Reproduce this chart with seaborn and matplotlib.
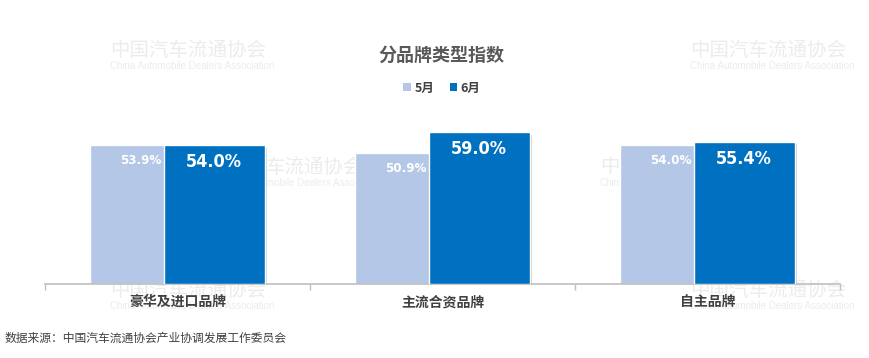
import matplotlib
matplotlib.use("Agg")
import matplotlib.pyplot as plt
import matplotlib.patheffects as pe
from matplotlib.patches import Patch
import seaborn as sns
import pandas as pd

categories = ["豪华及进口品牌", "主流合资品牌", "自主品牌"]
may_vals = [53.9, 50.9, 54.0]
jun_vals = [54.0, 59.0, 55.4]
series_names = ["5月", "6月"]
colors = ["#B4C7E7", "#0070C0"]

sns.set_theme(style="white")
CJK = ["Noto Sans CJK SC", "DejaVu Sans"]
NUM = ["DejaVu Sans"]
plt.rcParams["font.family"] = CJK

W, H = 869, 358
fig = plt.figure(figsize=(W / 100, H / 100), dpi=100)
ax = fig.add_axes([45 / W, (H - 284) / H, (840 - 45) / W, (284 - 104) / H])
ax.set_facecolor("none")

# faint watermarks (behind bars)
wm_color = "#ECECEC"
def watermark(x, y, cn="中国汽车流通协会", en="China Automobile Dealers Association"):
    fig.text(x / W, 1 - y / H, cn, fontsize=14, color=wm_color,
             family=CJK, ha="left", va="center", zorder=-5)
    fig.text(x / W, 1 - (y + 16) / H, en, fontsize=7,
             color=wm_color, family=["Liberation Sans", "DejaVu Sans"], ha="left", va="center", zorder=-5)

watermark(110, 50)
watermark(690, 50)
watermark(266, 167, "车流通协会", "mobile Dealers Associ")
watermark(600, 167, "中", "Chin")
watermark(110, 290)
watermark(690, 290)

df_may = pd.DataFrame({"cat": categories, "val": may_vals})
df_jun = pd.DataFrame({"cat": categories, "val": jun_vals})
bar_w = 0.381
offset = 0.138

shadow = [pe.SimplePatchShadow(offset=(2, -2), shadow_rgbFace="#808080", alpha=0.35), pe.Normal()]

sns.barplot(data=df_may, x="cat", y="val", color=colors[0], saturation=1, width=bar_w, ax=ax, zorder=2)
n0 = len(ax.patches)
for p in ax.patches[:n0]:
    p.set_x(p.get_x() - offset)
    p.set_path_effects(shadow)
sns.barplot(data=df_jun, x="cat", y="val", color=colors[1], saturation=1, width=bar_w, ax=ax, zorder=3)
for p in ax.patches[n0:]:
    p.set_x(p.get_x() + offset)
    p.set_path_effects(shadow)

for i, v in enumerate(may_vals):
    ax.annotate(f"{v:.1f}%", (i - offset, v), xytext=(0, -15), textcoords="offset pixels",
                ha="center", va="center", color="white", fontsize=9.5, weight="bold",
                family=NUM, fontstretch="condensed", zorder=4)
for i, v in enumerate(jun_vals):
    ax.annotate(f"{v:.1f}%", (i + offset, v), xytext=(0, -17), textcoords="offset pixels",
                ha="center", va="center", color="white", fontsize=13, weight="bold",
                family=NUM, fontstretch="condensed", zorder=5)

ax.set_ylim(0, 70)
ax.set_xlim(-0.5, 2.5)
ax.set_yticks([])
ax.set_xlabel("")
ax.set_ylabel("")
ax.set_xticks(range(len(categories)))
ax.set_xticklabels(categories, fontsize=10, weight="bold", color="#404040", family=CJK)
ax.tick_params(axis="x", which="major", length=0, pad=8)
ax.set_xticks([-0.5, 0.5, 1.5, 2.5], minor=True)
ax.tick_params(axis="x", which="minor", length=4, width=1, color="#BFBFBF", direction="out", bottom=True)
for s in ["top", "right", "left"]:
    ax.spines[s].set_visible(False)
ax.spines["bottom"].set_color("#BFBFBF")
ax.spines["bottom"].set_linewidth(1.2)

fig.text(441 / W, 1 - 55 / H, "分品牌类型指数", fontsize=13, weight="bold", color="#595959",
         ha="center", va="center", family=CJK)

handles = [Patch(facecolor=c, edgecolor="none") for c in colors]
leg = fig.legend(handles, series_names, loc="center", bbox_to_anchor=(442 / W, 1 - 88 / H), ncol=2,
                 frameon=False, handlelength=0.6, handleheight=0.6, handletextpad=0.3, columnspacing=1.2,
                 prop={"family": CJK, "weight": "bold", "size": 9})
for t in leg.get_texts():
    t.set_color("#404040")

fig.text(5 / W, 1 - 338 / H, "数据来源：中国汽车流通协会产业协调发展工作委员会", fontsize=8.5, color="#404040",
         ha="left", va="center", family=CJK)

fig.savefig("out.png", dpi=100, facecolor="white")
